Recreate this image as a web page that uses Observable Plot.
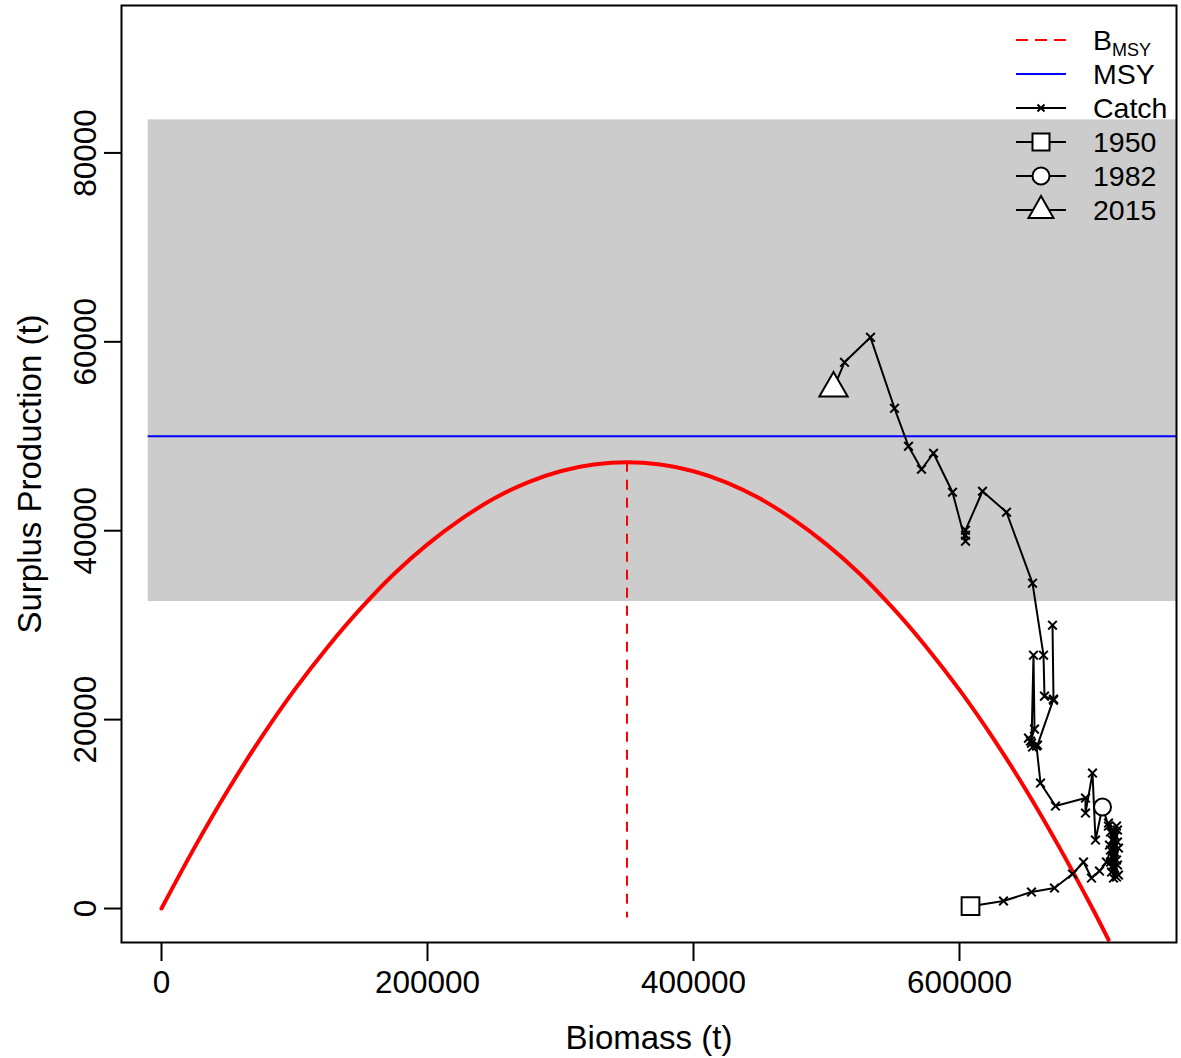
<!DOCTYPE html>
<html>
<head>
<meta charset="utf-8">
<script src="https://cdn.jsdelivr.net/npm/d3@7"></script>
<script src="https://cdn.jsdelivr.net/npm/@observablehq/plot@0.6"></script>
<style>
  html, body { margin: 0; padding: 0; background: white; }
  #wrap { position: relative; width: 1181px; height: 1058px; font-family: "Liberation Sans", Arial, sans-serif; }
  #legend { position: absolute; left: 0; top: 0; pointer-events: none; }
</style>
</head>
<body>
<div id="wrap"></div>
<script>
// Surplus production curve (biomass, surplus production)
const curveB  = [0, 25000, 50000, 75000, 100000, 125000, 150000, 175000, 200000, 225000, 250000, 275000, 300000, 325000, 350000, 375000, 400000, 425000, 450000, 475000, 500000, 525000, 550000, 575000, 600000, 625000, 650000, 675000, 700000, 712000];
const curveSP = [0, 6500, 12550, 18100, 23150, 27700, 31800, 35450, 38550, 41200, 43400, 45100, 46300, 47000, 47250, 47000, 46300, 45100, 43400, 41200, 38550, 35450, 31800, 27700, 23150, 18100, 12550, 6500, 0, -3300];

// Catch trajectory: years, biomass, catch
const years = d3.range(1950, 2016);
const catchB = [
  608270, 633083, 654136, 671429, 684962, 693233, 699248, 705263,
  710526, 713534, 715790, 718045, 715038, 718797, 716541, 719549, 714286, 718045, 712782, 718797,
  715790, 719549, 713534, 717293, 712030, 716541, 718797, 715038, 718045, 713534, 715790, 712030,
  707519,
  702256, 700000, 694737, 694737, 672180, 660902, 657895, 651880, 654887, 653383,
  656391, 655639, 654135, 658647, 670677, 669925, 670677, 663910, 663158, 654887,
  635338, 617293, 604511, 604511, 604511, 594737, 580451, 571429, 561654, 551128,
  533083, 513534, 505263
];
const catchC = [
  250, 794, 1746, 2169, 3651, 4921, 3228, 3968,
  4921, 6191, 3228, 5132, 7249, 8307, 4286, 6402, 3862, 8730, 6720, 4603,
  5661, 3545, 4921, 7672, 9048, 5979, 7037, 4497, 3333, 8095, 6614, 8730,
  10741,
  7249, 14339, 10106, 11693, 10847, 13280, 17196, 18042, 17090, 17725,
  18995, 26826, 17513, 17302, 22169, 30000, 22063, 22487, 26826, 34445,
  41958, 44180, 40053, 39524, 38889, 44074, 48201, 46508, 48942, 52963,
  60476, 57831, 55079
];

// Reference values
const bmsy = 350000;
const msyCurvePeak = 47250;
const msy = 50000;
const bandX = [-10000, 800000];
const bandY = [32500, 83500];
const bmsyLineBottom = -1000;

// Axes
const xTicks = [0, 200000, 400000, 600000];
const yTicks = [0, 20000, 40000, 60000, 80000];

// Highlighted years
const highlightYears = [1950, 1982, 2015];
const highlightSymbols = ["square", "circle", "triangle"];
const highlightR = [10, 8.5, 10.5];

const curveData = curveB.map((b, i) => ({b, sp: curveSP[i]}));
const catchData = years.map((yr, i) => ({year: yr, b: catchB[i], c: catchC[i]}));
const hiData = highlightYears.map((yr, i) => {
  const d = catchData.find(e => e.year === yr);
  return {year: yr, b: d.b, c: d.c, symbol: highlightSymbols[i], r: highlightR[i]};
});

const chart = Plot.plot({
  width: 1181,
  height: 1058,
  marginLeft: 121,
  marginRight: 5,
  marginTop: 5,
  marginBottom: 116,
  x: {domain: [-30075, 763158]},
  y: {domain: [-3598, 95608]},
  symbol: {type: "identity"},
  r: {type: "identity"},
  style: {fontFamily: "'Liberation Sans', Arial, sans-serif", background: "white", color: "black"},
  marks: [
    Plot.rect([{}], {x1: bandX[0], x2: bandX[1], y1: bandY[0], y2: bandY[1], fill: "#cccccc", clip: true}),
    Plot.ruleY([msy], {x1: bandX[0], x2: bandX[1], stroke: "#0000ff", strokeWidth: 2, clip: true}),
    Plot.line(curveData, {x: "b", y: "sp", stroke: "#ff0000", strokeWidth: 4, curve: "catmull-rom", clip: true}),
    Plot.ruleX([bmsy], {y1: msyCurvePeak, y2: bmsyLineBottom, stroke: "#ff0000", strokeWidth: 2, strokeDasharray: "10,8"}),
    Plot.line(catchData, {x: "b", y: "c", stroke: "black", strokeWidth: 2}),
    Plot.dot(catchData, {x: "b", y: "c", symbol: "times", r: 4, stroke: "black", strokeWidth: 2}),
    Plot.dot(hiData, {x: "b", y: "c", symbol: "symbol", r: "r", fill: "white", stroke: "black", strokeWidth: 2}),
    Plot.axisX(xTicks, {tickSize: 19, tickPadding: 9, fontSize: 31.5, strokeWidth: 2, tickFormat: d => String(d), label: null}),
    Plot.axisY(yTicks, {tickSize: 17, strokeWidth: 2, tickFormat: () => "", label: null}),
    Plot.text(yTicks, {y: d => d, text: d => String(d), frameAnchor: "left", rotate: -90, dx: -36, textAnchor: "middle", lineAnchor: "middle", fontSize: 31.5, fill: "black"}),
    Plot.text(["Biomass (t)"], {frameAnchor: "bottom", dy: 96, textAnchor: "middle", lineAnchor: "middle", fontSize: 33, fill: "black"}),
    Plot.text(["Surplus Production (t)"], {frameAnchor: "left", dx: -91, rotate: -90, textAnchor: "middle", lineAnchor: "middle", fontSize: 33, fill: "black"}),
    Plot.frame({stroke: "black", strokeWidth: 2})
  ]
});

const wrap = document.getElementById("wrap");
wrap.appendChild(chart);

// Legend (inside the plot, top-right), drawn as an overlay
const legendItems = [
  {type: "dash", label: "B", sub: "MSY"},
  {type: "blue", label: "MSY"},
  {type: "catch", label: "Catch"},
  {type: "square", label: "1950"},
  {type: "circle", label: "1982"},
  {type: "triangle", label: "2015"}
];
const lg = d3.create("svg").attr("id", "legend").attr("width", 1181).attr("height", 240);
const rowY0 = 40, rowStep = 34, lx1 = 1016, lx2 = 1066, lxm = 1041, tx = 1093;
legendItems.forEach((it, i) => {
  const y = rowY0 + i * rowStep;
  const g = lg.append("g");
  if (it.type === "dash") {
    g.append("line").attr("x1", lx1).attr("x2", lx2).attr("y1", y).attr("y2", y)
      .attr("stroke", "#ff0000").attr("stroke-width", 2).attr("stroke-dasharray", "12,7");
  } else if (it.type === "blue") {
    g.append("line").attr("x1", lx1).attr("x2", lx2).attr("y1", y).attr("y2", y)
      .attr("stroke", "#0000ff").attr("stroke-width", 2);
  } else {
    g.append("line").attr("x1", lx1).attr("x2", lx2).attr("y1", y).attr("y2", y)
      .attr("stroke", "black").attr("stroke-width", 2);
    if (it.type === "catch") {
      g.append("path").attr("d", `M${lxm-3.5},${y-3.5}L${lxm+3.5},${y+3.5}M${lxm-3.5},${y+3.5}L${lxm+3.5},${y-3.5}`)
        .attr("stroke", "black").attr("stroke-width", 2);
    } else if (it.type === "square") {
      g.append("rect").attr("x", lxm - 8.5).attr("y", y - 8.5).attr("width", 17).attr("height", 17)
        .attr("fill", "white").attr("stroke", "black").attr("stroke-width", 2);
    } else if (it.type === "circle") {
      g.append("circle").attr("cx", lxm).attr("cy", y).attr("r", 8.5)
        .attr("fill", "white").attr("stroke", "black").attr("stroke-width", 2);
    } else if (it.type === "triangle") {
      g.append("path").attr("d", `M${lxm},${y-14}L${lxm+12.5},${y+8}L${lxm-12.5},${y+8}Z`)
        .attr("fill", "white").attr("stroke", "black").attr("stroke-width", 2);
    }
  }
  const t = g.append("text").attr("x", tx).attr("y", y + 10).attr("font-size", 28.5)
    .attr("font-family", "'Liberation Sans', Arial, sans-serif").attr("fill", "black");
  t.append("tspan").text(it.label);
  if (it.sub) {
    t.append("tspan").attr("font-size", 18).attr("dy", 6).text(it.sub);
  }
});
wrap.appendChild(lg.node());
</script>
</body>
</html>
